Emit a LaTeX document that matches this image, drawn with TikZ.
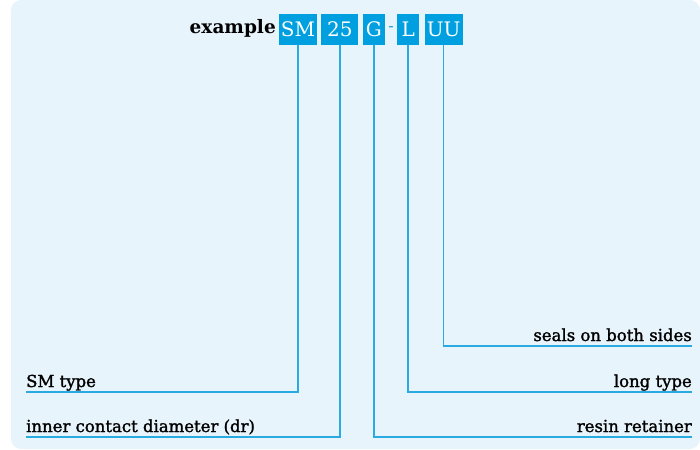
\documentclass[tikz,border=0pt]{standalone}
\usepackage{fontspec}
\setmainfont{DejaVu Serif}
\newfontfamily\labelfont[FakeBold=1.5]{DejaVu Serif}
\usetikzlibrary{positioning}

\begin{document}
\begin{tikzpicture}[x=1pt,y=-1pt,
  codebox/.style={fill=codecolor,text=white,inner xsep=0pt,inner ysep=0pt,
    minimum height=31pt,font=\fontsize{20}{20}\selectfont},
  leader/.style={draw=leadercolor,line width=1.5pt},
  labeltext/.style={inner sep=0pt,font=\labelfont\fontsize{16.5}{16.5}\selectfont}]
\definecolor{panelcolor}{RGB}{232,244,252}
\definecolor{codecolor}{RGB}{0,160,224}
\definecolor{leadercolor}{RGB}{41,171,226}

\useasboundingbox (0,0) rectangle (700,449);
\fill[panelcolor,rounded corners=10pt] (11,0) rectangle (700,449);

% part number boxes
\node[codebox,minimum width=38pt] (sm) at (298,29.5) {SM};
\node[codebox,minimum width=37pt,right=4pt of sm] (size) {25};
\node[codebox,minimum width=22pt,right=4pt of size] (cage) {G};
\node[codebox,minimum width=22pt,right=12pt of cage] (len) {L};
\node[codebox,minimum width=38pt,right=5pt of len] (seal) {UU};
\node[codecolor,inner sep=0pt,font=\fontsize{16}{16}\selectfont]
  (dash) at ([xshift=6pt]cage.east) {-};
\node[anchor=base east,inner sep=0pt,font=\bfseries\fontsize{18.5}{18.5}\selectfont]
  (ex) at (276,34) {example};

% end points of the leader lines
\coordinate (sealend) at (692,346);
\coordinate (lenend) at (692,392);
\coordinate (cageend) at (692,437);
\coordinate (smend) at (26,392);
\coordinate (sizeend) at (26,437);

% labels
\node[labeltext,anchor=base east] (sealtxt) at ([yshift=5pt]sealend) {seals on both sides};
\node[labeltext,anchor=base east] (lentxt) at ([yshift=5pt]lenend) {long type};
\node[labeltext,anchor=base east] (cagetxt) at ([yshift=5pt]cageend) {resin retainer};
\node[labeltext,anchor=base west] (smtxt) at ([yshift=5pt]smend) {SM type};
\node[labeltext,anchor=base west] (sizetxt) at ([yshift=5pt]sizeend) {inner contact diameter (dr)};

% leader lines
\draw[leader] (seal.south) |- (sealend);
\draw[leader] (len.south) |- (lenend);
\draw[leader] (cage.south) |- (cageend);
\draw[leader] (sm.south) |- (smend);
\draw[leader] (size.south) |- (sizeend);
\end{tikzpicture}
\end{document}
